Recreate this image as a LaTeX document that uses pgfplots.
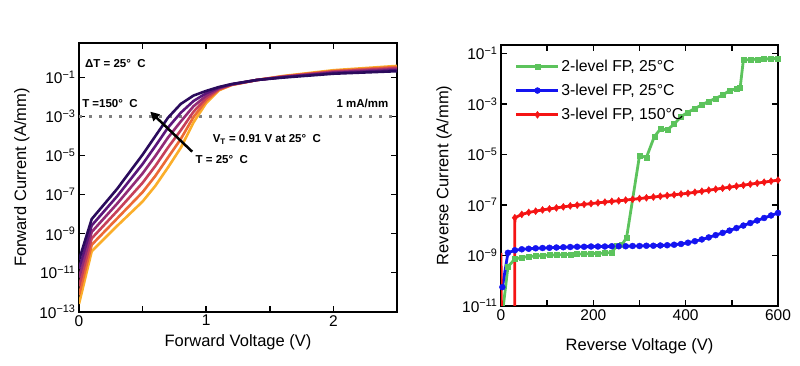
\documentclass[border=0pt]{standalone}
\usepackage{pgfplots}
\pgfplotsset{compat=1.18}
\usepackage{pgfplotstable}
\usepackage{fontspec}
\setmainfont{Liberation Sans}
\usetikzlibrary{arrows.meta}

\definecolor{tA}{HTML}{FBAE2A}
\definecolor{tB}{HTML}{EC6A35}
\definecolor{tC}{HTML}{C6405A}
\definecolor{tD}{HTML}{922B76}
\definecolor{tE}{HTML}{5B167A}
\definecolor{tF}{HTML}{2A0B5C}
\definecolor{gfp}{HTML}{5CC35C}
\definecolor{bfp}{HTML}{1414F0}
\definecolor{rfp}{HTML}{F51414}

% log10 of forward current (A/mm); a = 25 C ... f = 150 C
\pgfplotstableread{
V    a      b      c      d      e      f
0    -12.60 -12.15 -11.70 -11.25 -10.80 -10.35
0.1  -9.90  -9.57  -9.24  -8.91  -8.58  -8.25
0.3  -8.60  -8.22  -7.84  -7.46  -7.08  -6.70
0.5  -7.35  -6.87  -6.39  -5.91  -5.43  -4.95
0.6  -6.55  -6.04  -5.53  -5.02  -4.51  -4.00
0.7  -5.60  -5.09  -4.58  -4.07  -3.56  -3.05
0.8  -4.60  -4.15  -3.70  -3.25  -2.80  -2.35
0.9  -3.30  -3.02  -2.75  -2.47  -2.20  -1.92
1.0  -2.30  -2.18  -2.05  -1.93  -1.80  -1.68
1.1  -1.65  -1.62  -1.58  -1.55  -1.51  -1.48
1.2  -1.38  -1.37  -1.36  -1.35  -1.34  -1.33
1.4  -1.12  -1.12  -1.12  -1.12  -1.12  -1.12
1.6  -0.92  -0.94  -0.95  -0.97  -0.98  -1.00
2.0  -0.62  -0.66  -0.69  -0.73  -0.76  -0.80
2.5  -0.40  -0.45  -0.51  -0.56  -0.62  -0.67
}\fwd

% log10 of reverse current (A/mm)
\pgfplotstableread{
V L
0 -11.8
15 -9.45
30 -9.15
45 -9.08
60 -9.05
75 -9.03
90 -9.01
105 -8.99
120 -8.98
135 -8.97
150 -8.96
165 -8.95
180 -8.94
195 -8.93
210 -8.92
225 -8.91
240 -8.89
250 -8.63
262 -8.58
272 -8.30
300 -5.05
315 -5.12
332 -4.30
346 -3.98
360 -4.03
375 -3.80
390 -3.50
405 -3.33
420 -3.18
435 -3.04
450 -2.90
465 -2.78
480 -2.65
495 -2.47
510 -2.40
518 -2.36
525 -1.26
540 -1.24
555 -1.23
570 -1.22
585 -1.21
600 -1.20
}\green

\pgfplotstableread{
V L
3 -10.26
15 -8.90
30 -8.80
45 -8.76
60 -8.74
75 -8.72
90 -8.71
105 -8.70
120 -8.69
135 -8.68
150 -8.67
165 -8.66
180 -8.66
195 -8.65
210 -8.65
225 -8.65
240 -8.64
255 -8.64
270 -8.64
285 -8.63
300 -8.63
315 -8.62
330 -8.62
345 -8.61
360 -8.60
375 -8.58
390 -8.55
405 -8.50
420 -8.44
435 -8.37
450 -8.29
465 -8.20
480 -8.11
495 -8.02
510 -7.92
525 -7.82
540 -7.72
555 -7.62
570 -7.52
585 -7.42
600 -7.32
}\blue

\pgfplotstableread{
V L
30 -7.51
45 -7.38
60 -7.30
75 -7.25
90 -7.20
105 -7.16
120 -7.12
135 -7.08
150 -7.04
165 -7.01
180 -6.98
195 -6.95
210 -6.92
225 -6.89
240 -6.86
255 -6.84
270 -6.81
285 -6.78
300 -6.75
315 -6.72
330 -6.69
345 -6.66
360 -6.63
375 -6.60
390 -6.57
405 -6.54
420 -6.50
435 -6.46
450 -6.42
465 -6.38
480 -6.34
495 -6.30
510 -6.26
525 -6.22
540 -6.18
555 -6.14
570 -6.10
585 -6.06
600 -6.02
}\red

\pgfplotstableread{
V L
0 -8.9
2 -14
29.5 -14
30 -7.51
}\redlow

\begin{document}
\begin{tikzpicture}
\path[use as bounding box] (0,0) rectangle (800pt,365pt);

% ---------------- left: forward ----------------
\begin{axis}[
  scale only axis,
  ymode=log,
  axis line style={line width=1.8pt},
  tick style={line width=1.5pt, black},
  major tick length=6pt,
  tick align=inside,
  yminorticks=false,
  xminorticks=false,
  tick label style={font=\fontsize{15.5}{18}\selectfont},
  label style={font=\fontsize{16.5}{19}\selectfont},
  at={(79pt,53.3pt)}, anchor=south west,
  width=318pt, height=268.4pt,
  xmin=0, xmax=2.5, ymin=1e-13, ymax=5.75,
  xtick={0,0.5,1,1.5,2,2.5},
  xticklabels={0,,1,,2,},
  ytick={1e-13,1e-11,1e-9,1e-7,1e-5,1e-3,1e-1},
  yticklabels={10\textsuperscript{−13},10\textsuperscript{−11},10\textsuperscript{−9},10\textsuperscript{−7},10\textsuperscript{−5},10\textsuperscript{−3},10\textsuperscript{−1}},
  xlabel={Forward Voltage (V)},
  ylabel={Forward Current (A/mm)},
  xlabel style={at={(axis description cs:0.5,-0.115)}, anchor=center},
  ylabel style={at={(axis description cs:-0.18,0.5)}, anchor=center},
]
\addplot[gray, line width=2.6pt, dash pattern=on 2.6pt off 7.4pt] coordinates {(0,1e-3) (2.5,1e-3)};
\addplot[tA, line width=2.6pt] table[x=V, y expr=10^(\thisrow{a})] {\fwd};
\addplot[tB, line width=2.6pt] table[x=V, y expr=10^(\thisrow{b})] {\fwd};
\addplot[tC, line width=2.6pt] table[x=V, y expr=10^(\thisrow{c})] {\fwd};
\addplot[tD, line width=2.6pt] table[x=V, y expr=10^(\thisrow{d})] {\fwd};
\addplot[tE, line width=2.6pt] table[x=V, y expr=10^(\thisrow{e})] {\fwd};
\addplot[tF, line width=2.6pt] table[x=V, y expr=10^(\thisrow{f})] {\fwd};

\draw[black, line width=2.5pt, -{Triangle[length=9pt,width=9pt]}] (axis cs:0.89,1.6e-5) -- (axis cs:0.56,1.8e-3);

\node[anchor=west, inner sep=0pt, font=\bfseries\fontsize{11.5}{13}\selectfont] at (axis cs:0.047,0.5) {ΔT = 25°~~C};
\node[anchor=west, inner sep=0pt, font=\bfseries\fontsize{11.5}{13}\selectfont] at (axis cs:0.024,4.5e-3) {T =150°~~C};
\node[anchor=east, inner sep=0pt, font=\bfseries\fontsize{11.5}{13}\selectfont] at (axis cs:2.433,4.5e-3) {1 mA/mm};
\node[anchor=west, inner sep=0pt, font=\bfseries\fontsize{11.5}{13}\selectfont] at (axis cs:1.05,6.9e-5) {V\textsubscript{T} = 0.91 V at 25°~~C};
\node[anchor=west, inner sep=0pt, font=\bfseries\fontsize{11.5}{13}\selectfont] at (axis cs:0.916,6.6e-6) {T = 25°~~C};
\end{axis}

% ---------------- right: reverse ----------------
\begin{axis}[
  scale only axis,
  ymode=log,
  axis line style={line width=1.8pt},
  tick style={line width=1.5pt, black},
  major tick length=6pt,
  tick align=inside,
  yminorticks=false,
  xminorticks=false,
  tick label style={font=\fontsize{15.5}{18}\selectfont},
  label style={font=\fontsize{16.5}{19}\selectfont},
  at={(501pt,59.2pt)}, anchor=south west,
  width=277pt, height=260.7pt,
  xmin=0, xmax=600, ymin=1e-11, ymax=0.214,
  xtick={0,100,200,300,400,500,600},
  xticklabels={0,,200,,400,,600},
  ytick={1e-11,1e-9,1e-7,1e-5,1e-3,1e-1},
  yticklabels={10\textsuperscript{−11},10\textsuperscript{−9},10\textsuperscript{−7},10\textsuperscript{−5},10\textsuperscript{−3},10\textsuperscript{−1}},
  xlabel={Reverse Voltage (V)},
  ylabel={Reverse Current (A/mm)},
  xlabel style={at={(axis description cs:0.5,-0.155)}, anchor=center},
  ylabel style={at={(axis description cs:-0.205,0.5)}, anchor=center},
  legend style={draw=none, fill=none, at={(axis description cs:0.05,0.95)}, anchor=north west,
    font=\fontsize{15.8}{18}\selectfont, inner sep=0pt, row sep=8.3pt,
    nodes={inner sep=1.5pt}},
  legend cell align=left,
  legend image code/.code={\draw[mark repeat=2,mark phase=2,#1] plot coordinates {(0pt,0pt) (21pt,0pt) (42pt,0pt)};},
]
\addplot[gfp, line width=2.8pt, mark=square*, mark size=2.5pt, mark options={line width=0.4pt}] table[x=V, y expr=10^(\thisrow{L})] {\green};
\addlegendentry{2-level FP, 25°C}
\addplot[bfp, line width=2.8pt, mark=*, mark size=3pt, mark options={line width=0.4pt}] table[x=V, y expr=10^(\thisrow{L})] {\blue};
\addlegendentry{3-level FP, 25°C}
\addplot[rfp, line width=2.8pt, mark=diamond*, mark size=3.5pt, mark options={line width=0.4pt}] table[x=V, y expr=10^(\thisrow{L})] {\red};
\addlegendentry{3-level FP, 150°C}
\addplot[rfp, line width=2.8pt, forget plot] table[x=V, y expr=10^(\thisrow{L})] {\redlow};
\end{axis}
\end{tikzpicture}
\end{document}
